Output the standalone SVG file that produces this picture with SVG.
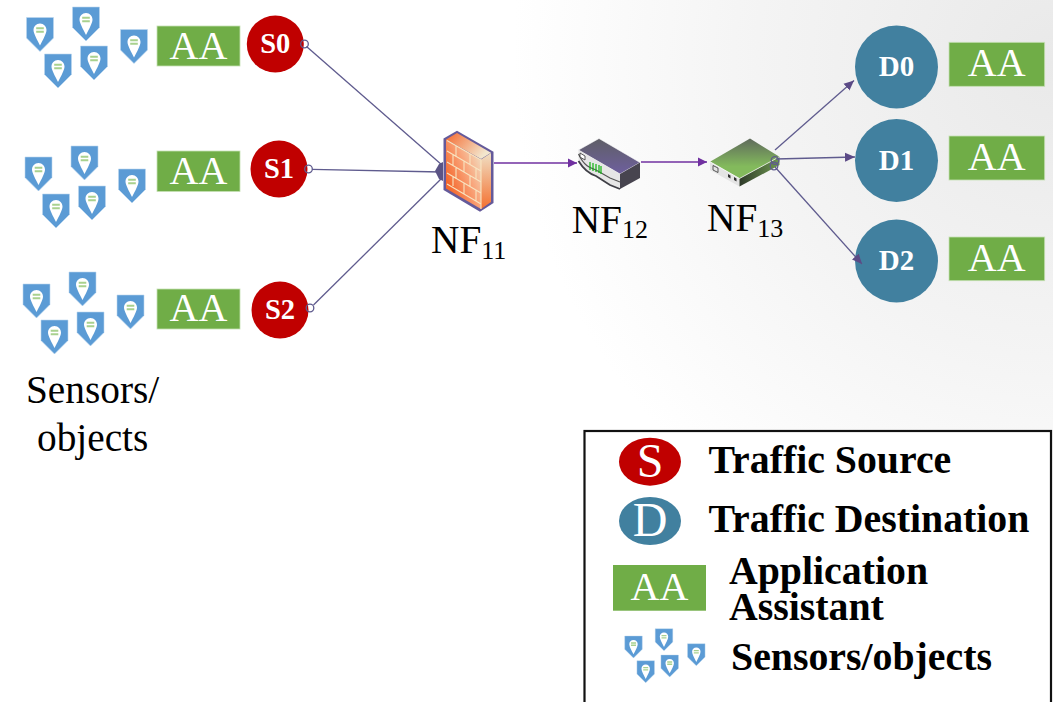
<svg xmlns="http://www.w3.org/2000/svg" width="1053" height="702" viewBox="0 0 1053 702">
<style>
text{font-family:"Liberation Serif","Times New Roman",serif}
.aa{fill:#70ad47;stroke:#c5e0b4;stroke-width:.8}
.aat{fill:#fff;font-size:40px;text-anchor:middle}
.s{fill:#c00000}
.d{fill:#41809f}
.nt{fill:#fff;font-weight:bold;text-anchor:middle}
.lbl{fill:#000;font-size:39.3px}
.sub{font-size:26px}
.leg{fill:#000;font-weight:bold;font-size:39.8px}
.c{fill:none;stroke:#5f5b8e;stroke-width:1.3}
.o{fill:none;stroke:#5f5b8e;stroke-width:1.3}
.p{fill:none;stroke:#7030a0;stroke-width:1.5}
.brick{fill:none;stroke:#f8e3c0;stroke-width:1.1}
</style>
<defs>
<radialGradient id="bg" gradientUnits="userSpaceOnUse" cx="1053" cy="60" r="540">
<stop offset="0" stop-color="#e9e9e9"/><stop offset=".55" stop-color="#f4f4f4"/><stop offset="1" stop-color="#fff"/>
</radialGradient>
<linearGradient id="fw" x1="1" y1="0.1" x2="0.15" y2="0.75"><stop offset="0" stop-color="#f0e6cc"/><stop offset=".5" stop-color="#f9a47a"/><stop offset="1" stop-color="#f4692e"/></linearGradient>
<linearGradient id="fwt" x1="0" y1="0" x2="1" y2="0.5"><stop offset="0" stop-color="#f4692e"/><stop offset="1" stop-color="#f3e6cd"/></linearGradient>
<linearGradient id="fws" x1="0" y1="0" x2="0" y2="1"><stop offset="0" stop-color="#f0dfc4"/><stop offset="1" stop-color="#f4702f"/></linearGradient>
<linearGradient id="rt" x1="0" y1="0" x2="0" y2="1"><stop offset="0" stop-color="#5f5f66"/><stop offset="1" stop-color="#6e5f9e"/></linearGradient>
<linearGradient id="gt" x1="0" y1="0" x2="0" y2="1"><stop offset="0" stop-color="#5f6a5c"/><stop offset=".7" stop-color="#83ba5c"/></linearGradient>
<linearGradient id="gs" x1="0" y1="0" x2="1" y2="0"><stop offset="0" stop-color="#2f3a2a"/><stop offset="1" stop-color="#6f9a50"/></linearGradient>
<marker id="ap" markerUnits="userSpaceOnUse" markerWidth="10" markerHeight="10" refX="9" refY="5" orient="auto"><path d="M0 .5L9 5L0 9.500Z" fill="#7030a0"/></marker>
<marker id="ag" markerUnits="userSpaceOnUse" markerWidth="11" markerHeight="10" refX="10" refY="5" orient="auto"><path d="M0 .5L10 5L0 9.500Z" fill="#5b4a86"/></marker>
<g id="pin">
<path d="M-13.500 0H13.500V20.500L0 34L-13.500 20.500Z" fill="#5b9bd5" stroke="#bdd7ee" stroke-width=".6"/>
<path d="M0 6C3.800 6 6.500 9 6.500 12.500C6.500 16 3 22 0 28C-3 22 -6.500 16 -6.500 12.500C-6.500 9 -3.800 6 0 6Z" fill="#fff"/>
<path d="M-3.800 10.800H3.800M-3.800 14.200H3.800" stroke="#a9d18e" stroke-width="2" fill="none"/>
</g>
</defs>
<rect id="background" width="1053" height="702" fill="url(#bg)"/>

<g id="sensors-0">
<use href="#pin" x="40" y="17.500"/><use href="#pin" x="86" y="7"/><use href="#pin" x="58" y="54"/><use href="#pin" x="94" y="46"/><use href="#pin" x="134" y="29.500"/>
</g>
<g id="sensors-1">
<use href="#pin" x="38.500" y="157"/><use href="#pin" x="84.500" y="146"/><use href="#pin" x="56" y="194"/><use href="#pin" x="92" y="186"/><use href="#pin" x="132" y="169"/>
</g>
<g id="sensors-2">
<use href="#pin" x="36.500" y="284"/><use href="#pin" x="82.500" y="272"/><use href="#pin" x="54.500" y="320"/><use href="#pin" x="90.500" y="312"/><use href="#pin" x="130.500" y="295"/>
</g>
<g id="sensors-label"><text class="lbl" x="26" y="403">Sensors/</text><text class="lbl" x="37" y="451">objects</text></g>

<g id="aa-s0"><rect class="aa" x="157" y="26" width="83" height="40"/><text class="aat" x="198.500" y="58.500">AA</text></g>
<g id="aa-s1"><rect class="aa" x="157" y="151" width="83" height="40.500"/><text class="aat" x="198.500" y="183.500">AA</text></g>
<g id="aa-s2"><rect class="aa" x="157" y="289" width="83" height="40"/><text class="aat" x="198.500" y="321">AA</text></g>

<g id="s0"><circle class="s" cx="275.300" cy="44" r="28.500"/><text class="nt" x="275.300" y="53" font-size="28.500">S0</text></g>
<g id="s1"><circle class="s" cx="279" cy="169" r="28.500"/><text class="nt" x="279" y="178" font-size="28.500">S1</text></g>
<g id="s2"><circle class="s" cx="280" cy="310" r="28.500"/><text class="nt" x="280" y="319" font-size="28.500">S2</text></g>

<g id="nf11">
<path d="M443.500 138.500L457 130.700L493.500 151.700V203L480 211.700L443.500 190Z" fill="#645a9a"/>
<path d="M446 139.500L457 133L491 152.700L481 159Z" fill="url(#fwt)"/>
<path d="M446 139.500L481 159.500V209L446 188.500Z" fill="url(#fw)"/>
<path d="M481 159.500L491 153V202L481 209Z" fill="url(#fws)"/>
<path class="brick" d="M447 140.500L481 160V209M447 151L481 171M447 162L481 182M447 173L481 193M447 184L481 204M456 146V157M470 154V165M453 154V165M464 161V172M476 168V179M456 168V179M470 176V187M453 176V186M464 183V194M476 190V201"/>
<text class="lbl" x="431" y="253">NF<tspan class="sub" dy="6">11</tspan></text>
</g>

<g id="nf12">
<path d="M578.500 150L599 138.500L640 162.500L620 174Z" fill="url(#rt)" stroke="#fff" stroke-width=".6"/>
<path d="M620 174L640 162.500V178L620 189Z" fill="#47444f"/>
<path d="M578.500 150L620 174V189L610 185L596 176C590 174 584 170 578.500 161Z" fill="#e6e6e6"/>
<path d="M578.500 161C584 170 590 174 596 176L610 185L620 189" fill="none" stroke="#3f3f46" stroke-width="1.800"/>
<path d="M578.500 154C584 166 590 168 596 170L610 178L620 182" fill="none" stroke="#555" stroke-width="1.200"/>
<path d="M580 153L585 156V160L580 157Z" fill="#fff" stroke="#333" stroke-width=".8"/>
<path d="M590 162V170M593 163V171M596 164V172M599 165V173M601 166V174" stroke="#0fb30f" stroke-width="1.200"/>
<text class="lbl" x="571.700" y="233">NF<tspan class="sub" dy="5">12</tspan></text>
</g>

<g id="nf13">
<path d="M710 161.700L750 138.500L779.500 156.700L739.500 178.500Z" fill="url(#gt)"/>
<path d="M710 161.700L739.500 178.500V186.500L710 170Z" fill="#e4e4e4"/>
<path d="M739.500 178.500L779.500 156.700V165L739.500 186.500Z" fill="url(#gs)"/>
<path d="M710 161.700L739.500 178.500L779.500 156.700" fill="none" stroke="#fff" stroke-width=".7"/>
<path d="M713 165.500L718 168V172.500L713 170Z" fill="none" stroke="#333" stroke-width=".8"/>
<path d="M728 174L730.500 175.500V178.500L728 177ZM734 177L736.500 178.500V181.500L734 180Z" fill="#333"/>
<text class="lbl" x="707" y="231">NF<tspan class="sub" dy="5.500">13</tspan></text>
</g>

<g id="d0"><circle class="d" cx="896.500" cy="67" r="41.500"/><text class="nt" x="896.500" y="76" font-size="29">D0</text></g>
<g id="d1"><circle class="d" cx="896.500" cy="160.500" r="41.500"/><text class="nt" x="896.500" y="170" font-size="29">D1</text></g>
<g id="d2"><circle class="d" cx="896.500" cy="261" r="41.500"/><text class="nt" x="896.500" y="270" font-size="29">D2</text></g>

<g id="aa-d0"><rect class="aa" x="949" y="42.300" width="95.700" height="44"/><text class="aat" x="996.700" y="75.700">AA</text></g>
<g id="aa-d1"><rect class="aa" x="949" y="136" width="95.700" height="44"/><text class="aat" x="996.700" y="169.500">AA</text></g>
<g id="aa-d2"><rect class="aa" x="949" y="237" width="95.700" height="43.700"/><text class="aat" x="996.700" y="270.500">AA</text></g>

<g id="connectors">
<path class="c" d="M306.500 46.500L442 165"/>
<path class="c" d="M312 169.300L441 172"/>
<path class="c" d="M313.500 305L442 178"/>
<path d="M435 171L439 164L443 162V181L439 179Z" fill="#5b5485"/>
<circle class="o" cx="304.500" cy="44" r="3.800"/>
<circle class="o" cx="308.500" cy="169" r="3.800"/>
<circle class="o" cx="310" cy="308" r="3.800"/>
<path class="p" d="M494 163H577" marker-end="url(#ap)"/>
<path class="p" d="M641 162H707" marker-end="url(#ap)"/>
<path class="c" d="M775 150L854 80.500" marker-end="url(#ag)"/>
<path class="c" d="M776 159L855 157" marker-end="url(#ag)"/>
<path class="c" d="M775 167L862 264" marker-end="url(#ag)"/>
<circle class="o" cx="775" cy="160.500" r="3.800"/>
<circle class="o" cx="774" cy="166" r="3.800"/>
</g>

<g id="legend">
<rect x="584.500" y="431" width="466.500" height="290" fill="#fff" stroke="#111" stroke-width="2.200"/>
<g id="legend-s"><ellipse class="s" cx="650" cy="461.700" rx="31" ry="24"/><text x="650" y="476.700" fill="#fff" font-size="48" text-anchor="middle">S</text><text class="leg" x="708.500" y="473">Traffic Source</text></g>
<g id="legend-d"><ellipse class="d" cx="650" cy="521" rx="31" ry="24"/><text x="650" y="536" fill="#fff" font-size="48" text-anchor="middle">D</text><text class="leg" x="708.500" y="532">Traffic Destination</text></g>
<g id="legend-aa"><rect x="613" y="565" width="93" height="45.700" fill="#70ad47"/><text class="aat" x="659.500" y="600">AA</text><text class="leg" x="729" y="583.500">Application</text><text class="leg" x="729" y="620">Assistant</text></g>
<g id="legend-sensors">
<use href="#pin" transform="translate(633.500 636) scale(.65)"/><use href="#pin" transform="translate(664 628.700) scale(.65)"/><use href="#pin" transform="translate(645.700 660.700) scale(.65)"/><use href="#pin" transform="translate(669.700 655) scale(.65)"/><use href="#pin" transform="translate(696.300 643.700) scale(.65)"/>
<text class="leg" x="731" y="670">Sensors/objects</text>
</g>
</g>
</svg>
